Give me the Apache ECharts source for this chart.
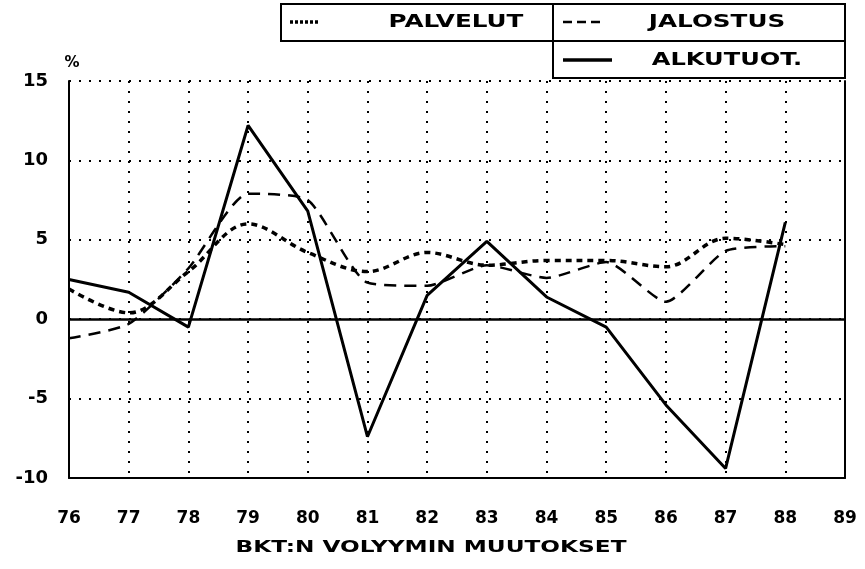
<!DOCTYPE html>
<html>
<head>
<meta charset="utf-8">
<script src="https://cdn.jsdelivr.net/npm/echarts@6/dist/echarts.min.js"></script>
<style>html,body{margin:0;padding:0;background:#fff}#c{width:865px;height:569px}</style>
</head>
<body>
<div id="c"></div>
<script>
const years = [76, 77, 78, 79, 80, 81, 82, 83, 84, 85, 86, 87, 88];
const palvelut = [1.9, 0.4, 3.0, 6.0, 4.2, 3.0, 4.2, 3.4, 3.7, 3.7, 3.3, 5.1, 4.7];
const jalostus = [-1.2, -0.3, 3.2, 7.9, 7.5, 2.3, 2.1, 3.4, 2.6, 3.6, 1.1, 4.3, 4.6];
const alkutuot = [2.5, 1.7, -0.5, 12.2, 6.8, -7.4, 1.5, 4.9, 1.4, -0.5, -5.4, -9.4, 6.1];
const seriesNames = ['PALVELUT', 'JALOSTUS', 'ALKUTUOT.'];
const titleText = 'BKT:N VOLYYMIN MUUTOKSET';
const yUnit = '%';

const FONT = 'DejaVu Sans';
const pairs = arr => years.map((y, i) => [y, arr[i]]);

const chart = echarts.init(document.getElementById('c'), null, {renderer: 'canvas'});

function label(text, x, y, size, sx) {
  return {
    type: 'text', x: x, y: y, scaleX: sx, silent: true,
    style: {text: text, x: 0, y: 0, fill: '#000', textAlign: 'center', textVerticalAlign: 'middle',
      font: 'bold ' + size + 'px "' + FONT + '"'}
  };
}
function seg(x1, y1, x2, y2, w, dash) {
  return {type: 'line', silent: true, shape: {x1: x1, y1: y1, x2: x2, y2: y2},
    style: {stroke: '#000', lineWidth: w, lineDash: dash || null}};
}

chart.setOption({
  backgroundColor: '#fff',
  animation: false,
  grid: {left: 69, right: 20, top: 81, bottom: 91},
  xAxis: {
    type: 'value', min: 76, max: 89, interval: 1,
    axisLine: {show: true, onZero: false, lineStyle: {color: '#000', width: 2}},
    axisTick: {show: false},
    axisLabel: {margin: 32, color: '#000', fontFamily: FONT, fontWeight: 'bold', fontSize: 17},
    splitLine: {show: true, lineStyle: {color: '#000', width: 2, type: [2, 8]}}
  },
  yAxis: [{
    type: 'value', min: -10, max: 15, interval: 5,
    name: yUnit, nameLocation: 'end', nameGap: 10,
    nameTextStyle: {color: '#000', fontFamily: FONT, fontWeight: 'bold', fontSize: 15, align: 'center', padding: [0, 0, 0, 6]},
    axisLine: {show: true, lineStyle: {color: '#000', width: 2}},
    axisTick: {show: false},
    axisLabel: {margin: 21, color: '#000', fontFamily: FONT, fontWeight: 'bold', fontSize: 18},
    splitLine: {show: true, lineStyle: {color: '#000', width: 2, type: [2, 8]}}
  }, {
    type: 'value', min: -10, max: 15, interval: 5, position: 'right',
    axisLine: {show: true, lineStyle: {color: '#000', width: 2}},
    axisTick: {show: false}, axisLabel: {show: false}, splitLine: {show: false}
  }],
  series: [{
    name: seriesNames[0], type: 'line', data: pairs(palvelut), smooth: 0.35,
    symbol: 'none', lineStyle: {color: '#000', width: 3.5, type: [6, 5]}
  }, {
    name: seriesNames[1], type: 'line', data: pairs(jalostus), smooth: 0.2,
    symbol: 'none', lineStyle: {color: '#000', width: 2.5, type: [12, 8]}
  }, {
    name: seriesNames[2], type: 'line', data: pairs(alkutuot),
    symbol: 'none', lineStyle: {color: '#000', width: 3},
    markLine: {silent: true, symbol: 'none', label: {show: false},
      lineStyle: {color: '#000', width: 2.5, type: 'solid'}, data: [{yAxis: 0}]}
  }],
  graphic: [
    {type: 'rect', silent: true, shape: {x: 281, y: 4, width: 272, height: 37},
      style: {fill: '#fff', stroke: '#000', lineWidth: 2}},
    {type: 'rect', silent: true, shape: {x: 553, y: 4, width: 292, height: 74},
      style: {fill: '#fff', stroke: '#000', lineWidth: 2}},
    seg(553, 41, 845, 41, 2),
    seg(290, 22, 319, 22, 3.5, [3, 2]),
    seg(563, 22, 601, 22, 2.5, [9, 5]),
    seg(563, 60, 612, 60, 3.5),
    label(seriesNames[0], 456, 23, 17, 1.45),
    label(seriesNames[1], 717, 23, 17, 1.45),
    label(seriesNames[2], 727, 61, 17, 1.42),
    label(titleText, 431, 548, 16, 1.45)
  ]
});
</script>
</body>
</html>
